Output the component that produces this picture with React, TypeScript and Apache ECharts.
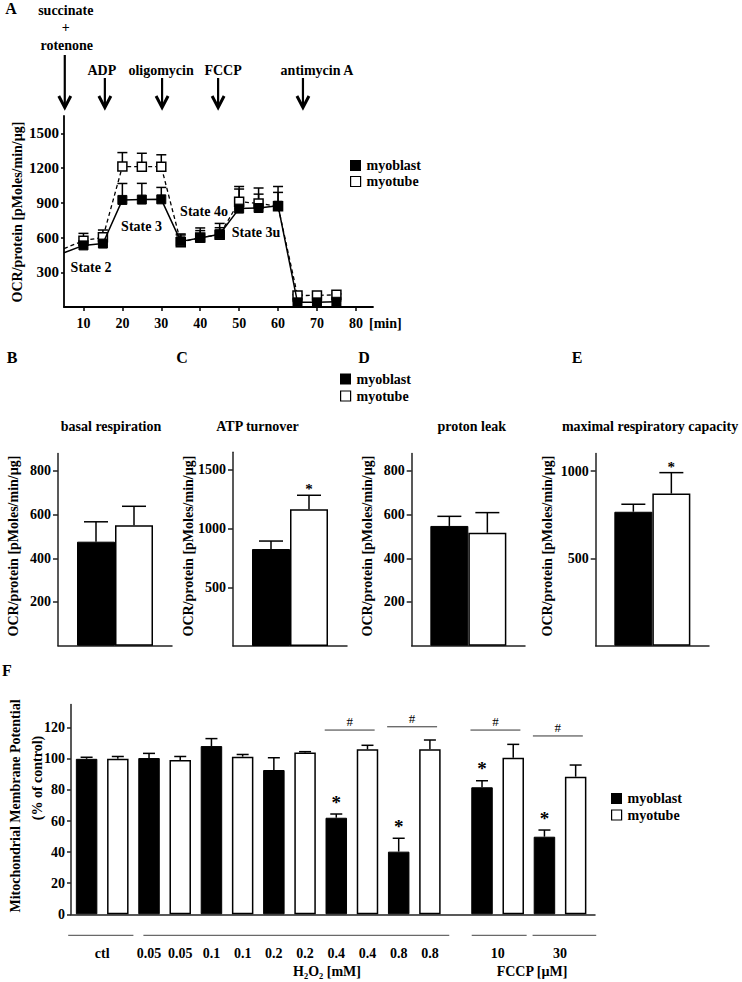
import React, { useEffect, useRef } from 'react';
import * as echarts from 'echarts';

// ---------------- DATA ----------------
// Panel A: oxygen consumption time course
const timeA = [5, 10, 15, 20, 25, 30, 35, 40, 45, 50, 55, 60, 65, 70, 75];
const myoblastA = [468, 532, 548, 925, 928, 930, 567, 597, 628, 850, 855, 875, 40, 40, 45];
const myoblastAErr = [0, 40, 45, 142, 140, 103, 55, 86, 94, 169, 120, 166, 8, 8, 8];
const myotubeA = [505, 573, 602, 1214, 1212, 1212, 559, 600, 625, 910, 895, 870, 99, 100, 105];
const myotubeAErr = [0, 63, 63, 120, 116, 103, 72, 60, 60, 131, 133, 120, 8, 8, 8];
const yTicksA = [300, 600, 900, 1200, 1500];
const xTicksA = [10, 20, 30, 40, 50, 60, 70, 80];
const injectionNames = ['succinate', 'ADP', 'oligomycin', 'FCCP', 'antimycin A'];
const injectionTimes = [5.2, 15.5, 30.2, 44.6, 66.4];
const stateLabels = ['State 2', 'State 3', 'State 4o', 'State 3u'];

// Panels B-E
const panelTitles = ['basal respiration', 'ATP turnover', 'proton leak', 'maximal respiratory capacity'];
const myoblastBE = [476, 826, 548, 767];
const myoblastBEErr = [91, 68, 44, 43];
const myotubeBE = [551, 1164, 517, 871];
const myotubeBEErr = [87, 120, 92, 120];
const myotubeBESig = [0, 1, 0, 1];
const yMaxBE = [880, 1650, 880, 1100];
const yTicksBE = [[200, 400, 600, 800], [500, 1000, 1500], [200, 400, 600, 800], [500, 1000]];

// Panel F
const fCategories = ['ctl', '0.05', '0.1', '0.2', '0.4', '0.8', '10', '30'];
const myoblastF = [100, 100.5, 108.2, 92.8, 62.1, 40.3, 81.7, 49.9];
const myoblastFErr = [1, 3, 4.8, 7.9, 2.4, 8.6, 4.2, 4.3];
const myotubeF = [100, 99.3, 101.4, 104, 106.1, 106.1, 100.7, 88.5];
const myotubeFErr = [1.5, 2.2, 1.4, 0.6, 2.6, 6, 8.6, 7.5];
const myoblastFSig = [0, 0, 0, 0, 1, 1, 1, 1];
const hashLevelF = [null, null, null, null, 118.5, 120.6, 118.5, 114.7];
const labelEachBarF = [false, true, true, true, true, true, false, false];
const yTicksF = [0, 20, 40, 60, 80, 100, 120];

// ---------------- LAYOUT ----------------
const FONT = "'Liberation Serif', 'Times New Roman', Times, serif";
const fGap = 0.67; // extra gap before FCCP group (in bar slots)
const pairX = (p: number) => 2 * p + (p >= 6 ? fGap : 0);
const fGroupSpans = [[-0.59, 1.5], [1.82, 11.62], [12.34, 14.1], [14.29, 16.33]];

const gridA = { left: 64, top: 116, width: 309, height: 191 };
const gridBE = [
  { left: 58, top: 453.4, width: 114, height: 192.3 },
  { left: 233, top: 452.3, width: 114, height: 193.7 },
  { left: 411.7, top: 453.4, width: 113.3, height: 192.3 },
  { left: 595.7, top: 453.6, width: 113.3, height: 192.1 },
];
const gridF = { left: 71, top: 704.4, width: 524, height: 209.9 };

const plain = (v: number) => String(v);
const tickFont = (size = 14) => ({ fontFamily: FONT, fontWeight: 'bold' as const, fontSize: size, color: '#000' });

function errRenderer(capHalf: number, dxUnit: number, starSize: number, starGap: number) {
  return (_params: any, api: any) => {
    const x = api.value(0), v = api.value(1), e = api.value(2);
    const side = api.value(3), star = api.value(4);
    const base = api.coord([x, v]);
    const top = api.coord([x, v + e]);
    const cx = base[0] + side * dxUnit;
    const children: any[] = [];
    if (e > 0) {
      children.push({ type: 'line', shape: { x1: cx, y1: base[1], x2: cx, y2: top[1] }, style: { stroke: '#000', lineWidth: 1.5 } });
      children.push({ type: 'line', shape: { x1: cx - capHalf, y1: top[1], x2: cx + capHalf, y2: top[1] }, style: { stroke: '#000', lineWidth: 1.5 } });
    }
    if (star) {
      children.push({
        type: 'text', x: cx, y: top[1] - starGap,
        style: { text: '*', font: `bold ${starSize}px ${FONT}`, fill: '#000', textAlign: 'center', align: 'center', textVerticalAlign: 'middle', verticalAlign: 'middle' },
      });
    }
    return { type: 'group', children };
  };
}

function T(text: string, x: number, y: number, o: any = {}) {
  const align = o.align || 'center';
  return {
    type: 'text', x, y, rotation: o.rot || 0, z: 20,
    style: {
      text, font: `${o.weight || 'bold'} ${o.size || 14}px ${FONT}`, fill: '#000',
      textAlign: align, align, textVerticalAlign: 'middle', verticalAlign: 'middle',
    },
  };
}

function legendBlock(x: number, y1: number, y2: number) {
  return [
    { type: 'rect', z: 20, shape: { x, y: y1 - 5.5, width: 11, height: 11 }, style: { fill: '#000' } },
    T('myoblast', x + 16.5, y1, { align: 'left' }),
    { type: 'rect', z: 20, shape: { x: x + 0.6, y: y2 - 5, width: 10, height: 10 }, style: { fill: '#fff', stroke: '#000', lineWidth: 1.2 } },
    T('myotube', x + 16.5, y2, { align: 'left' }),
  ];
}

function buildOption() {
  const axisLineStyle = { color: '#000', width: 1.8 };
  const xAxis: any[] = [];
  const yAxis: any[] = [];
  const grid: any[] = [];
  const series: any[] = [];

  // ---- Panel A ----
  grid.push({ ...gridA, containLabel: false, outerBoundsMode: 'none' });
  xAxis.push({
    type: 'value', gridIndex: 0, min: 5, max: 84.4,
    axisLine: { show: true, onZero: false, lineStyle: axisLineStyle },
    axisTick: { show: true, customValues: xTicksA, length: 4, lineStyle: { color: '#000', width: 1.5 } },
    axisLabel: { customValues: xTicksA, margin: 9, formatter: plain, ...tickFont(14) },
    splitLine: { show: false },
  });
  yAxis.push({
    type: 'value', gridIndex: 0, min: 0, max: 1650,
    axisLine: { show: true, onZero: false, lineStyle: axisLineStyle },
    axisTick: { show: true, customValues: yTicksA, length: 3, lineStyle: { color: '#000', width: 1.5 } },
    axisLabel: { customValues: yTicksA, margin: 5, formatter: plain, ...tickFont(15) },
    splitLine: { show: false },
  });
  const lineData = (vals: number[]) => timeA.map((t, i) => (i === 0 ? { value: [t, vals[i]], symbol: 'none' } : [t, vals[i]]));
  series.push({
    name: 'myotube', type: 'line', xAxisIndex: 0, yAxisIndex: 0, z: 3, silent: true,
    data: lineData(myotubeA), symbol: 'rect', symbolSize: 9,
    itemStyle: { color: '#fff', borderColor: '#000', borderWidth: 1.5 },
    lineStyle: { color: '#000', width: 1.3, type: [4, 3] },
  });
  series.push({
    name: 'myoblast', type: 'line', xAxisIndex: 0, yAxisIndex: 0, z: 4, silent: true,
    data: lineData(myoblastA), symbol: 'rect', symbolSize: 9,
    itemStyle: { color: '#000', borderColor: '#000', borderWidth: 1 },
    lineStyle: { color: '#000', width: 1.5 },
  });
  series.push({
    type: 'custom', xAxisIndex: 0, yAxisIndex: 0, z: 2, silent: true, clip: false,
    encode: { x: 0, y: 1 },
    data: timeA.map((t, i) => [t, myotubeA[i], myotubeAErr[i], 0, 0]),
    renderItem: errRenderer(5, 0, 14, 8),
  });
  series.push({
    type: 'custom', xAxisIndex: 0, yAxisIndex: 0, z: 2, silent: true, clip: false,
    encode: { x: 0, y: 1 },
    data: timeA.map((t, i) => [t, myoblastA[i], myoblastAErr[i], 0, 0]),
    renderItem: errRenderer(5, 0, 14, 8),
  });

  // ---- Panels B-E ----
  gridBE.forEach((g, k) => {
    const gi = k + 1;
    grid.push({ ...g, containLabel: false, outerBoundsMode: 'none' });
    xAxis.push({
      type: 'category', gridIndex: gi, data: [''],
      axisLine: { show: true, lineStyle: { color: '#222', width: 1.5 } },
      axisTick: { show: false }, axisLabel: { show: false }, splitLine: { show: false },
    });
    yAxis.push({
      type: 'value', gridIndex: gi, min: 0, max: yMaxBE[k],
      axisLine: { show: true, onZero: false, lineStyle: { color: '#222', width: 1.5 } },
      axisTick: { show: true, customValues: yTicksBE[k], length: 5, lineStyle: { color: '#222', width: 1.5 } },
      axisLabel: { customValues: yTicksBE[k], margin: 7, formatter: plain, ...tickFont(14) },
      splitLine: { show: false },
    });
    series.push({
      name: 'myoblast', type: 'bar', xAxisIndex: gi, yAxisIndex: gi, silent: true,
      data: [myoblastBE[k]], barWidth: 38, barGap: '0%',
      itemStyle: { color: '#000', borderColor: '#000', borderWidth: 1 },
    });
    series.push({
      name: 'myotube', type: 'bar', xAxisIndex: gi, yAxisIndex: gi, silent: true,
      data: [myotubeBE[k]], barWidth: 38, barGap: '0%',
      itemStyle: { color: '#fff', borderColor: '#000', borderWidth: 1.5 },
    });
    series.push({
      type: 'custom', xAxisIndex: gi, yAxisIndex: gi, z: 5, silent: true, clip: false,
      encode: { x: 0, y: 1 },
      data: [
        [0, myoblastBE[k], myoblastBEErr[k], -1, 0],
        [0, myotubeBE[k], myotubeBEErr[k], 1, myotubeBESig[k]],
      ],
      renderItem: errRenderer(12, 19, 15, 6),
    });
  });

  // ---- Panel F ----
  const fLabelPos: number[] = [];
  const fLabelText: string[] = [];
  fCategories.forEach((c, p) => {
    const bx = pairX(p);
    if (labelEachBarF[p]) { fLabelPos.push(bx, bx + 1); fLabelText.push(c, c); }
    else { fLabelPos.push(bx + 0.5); fLabelText.push(c); }
  });
  grid.push({ ...gridF, containLabel: false, outerBoundsMode: 'none' });
  xAxis.push({
    type: 'value', gridIndex: 5, min: -0.5, max: 16.29,
    axisLine: { show: true, onZero: false, lineStyle: { color: '#222', width: 1.5 } },
    axisTick: { show: false },
    axisLabel: {
      customValues: fLabelPos, margin: 32, ...tickFont(14),
      formatter: (v: number) => {
        const i = fLabelPos.findIndex((q) => Math.abs(q - v) < 1e-6);
        return i >= 0 ? fLabelText[i] : '';
      },
    },
    splitLine: { show: false },
  });
  yAxis.push({
    type: 'value', gridIndex: 5, min: 0, max: 135,
    axisLine: { show: true, onZero: false, lineStyle: { color: '#222', width: 1.5 } },
    axisTick: { show: true, customValues: yTicksF, length: 4, lineStyle: { color: '#222', width: 1.5 } },
    axisLabel: { customValues: yTicksF, margin: 6, formatter: plain, ...tickFont(14) },
    splitLine: { show: false },
  });
  series.push({
    name: 'myoblast', type: 'bar', xAxisIndex: 5, yAxisIndex: 5, silent: true,
    data: myoblastF.map((v, p) => [pairX(p), v]), barWidth: 21.5, barGap: '-100%',
    itemStyle: { color: '#000', borderColor: '#000', borderWidth: 1 },
  });
  series.push({
    name: 'myotube', type: 'bar', xAxisIndex: 5, yAxisIndex: 5, silent: true,
    data: myotubeF.map((v, p) => [pairX(p) + 1, v]), barWidth: 21.5, barGap: '-100%',
    itemStyle: { color: '#fff', borderColor: '#000', borderWidth: 1.5 },
  });
  series.push({
    type: 'custom', xAxisIndex: 5, yAxisIndex: 5, z: 5, silent: true, clip: false,
    encode: { x: 0, y: 1 },
    data: [
      ...myoblastF.map((v, p) => [pairX(p), v, myoblastFErr[p], 0, myoblastFSig[p]]),
      ...myotubeF.map((v, p) => [pairX(p) + 1, v, myotubeFErr[p], 0, 0]),
    ],
    renderItem: errRenderer(6, 0, 19, 12),
  });
  // significance brackets (#)
  series.push({
    type: 'custom', xAxisIndex: 5, yAxisIndex: 5, z: 5, silent: true, clip: false,
    encode: { x: [0, 1], y: 2 },
    data: hashLevelF
      .map((h, p) => (h == null ? null : [pairX(p) - 0.37, pairX(p) + 1.23, h]))
      .filter((r) => r !== null),
    renderItem: (_p: any, api: any) => {
      const a = api.coord([api.value(0), api.value(2)]);
      const b = api.coord([api.value(1), api.value(2)]);
      return {
        type: 'group',
        children: [
          { type: 'line', shape: { x1: a[0], y1: a[1], x2: b[0], y2: b[1] }, style: { stroke: '#333', lineWidth: 1 } },
          {
            type: 'text', x: (a[0] + b[0]) / 2, y: a[1] - 8.5,
            style: { text: '#', font: `13px ${FONT}`, fill: '#000', textAlign: 'center', align: 'center', textVerticalAlign: 'middle', verticalAlign: 'middle' },
          },
        ],
      };
    },
  });
  // group lines under the x axis
  series.push({
    type: 'custom', xAxisIndex: 5, yAxisIndex: 5, z: 5, silent: true, clip: false,
    encode: { x: [0, 1] },
    data: fGroupSpans,
    renderItem: (_p: any, api: any) => {
      const a = api.coord([api.value(0), 0]);
      const b = api.coord([api.value(1), 0]);
      return { type: 'line', shape: { x1: a[0], y1: a[1] + 21, x2: b[0], y2: b[1] + 21 }, style: { stroke: '#444', lineWidth: 1 } };
    },
  });

  return { animation: false, backgroundColor: '#fff', grid, xAxis, yAxis, series };
}

function buildGraphics(px: (t: number) => number) {
  const g: any[] = [];
  // panel letters
  g.push(T('A', 11, 8, { size: 16 }), T('B', 12, 357, { size: 16 }), T('C', 182, 357, { size: 16 }),
    T('D', 364, 357, { size: 16 }), T('E', 577, 357, { size: 16 }), T('F', 7, 670, { size: 16 }));

  // injection arrows
  const labelDx = [1, -3, -1, 5, 14];
  injectionTimes.forEach((t, i) => {
    const x = px(t);
    const top = i === 0 ? 55 : 78;
    g.push({ type: 'line', z: 20, shape: { x1: x, y1: top, x2: x, y2: 106 }, style: { stroke: '#000', lineWidth: 2.2 } });
    g.push({ type: 'polyline', z: 20, shape: { points: [[x - 6, 96], [x, 107.5], [x + 6, 96]] }, style: { stroke: '#000', lineWidth: 3, fill: null } });
    if (i === 0) {
      g.push(T(injectionNames[0], x + labelDx[0], 10), T('+', x + 1, 27), T('rotenone', x + 2, 45));
    } else {
      g.push(T(injectionNames[i], x + labelDx[i], 70));
    }
  });
  // state labels
  g.push(T(stateLabels[0], 91, 267), T(stateLabels[1], 141.5, 226), T(stateLabels[2], 204, 211.5), T(stateLabels[3], 256, 232));
  // axis names
  const ocr = 'OCR/protein [pMoles/min/µg]';
  g.push(T(ocr, 17, 212, { rot: Math.PI / 2 }));
  g.push(T('[min]', 369, 323, { align: 'left' }));
  const yNameX = [13, 188, 367, 547];
  const titleX = [111, 257.5, 471.7, 650];
  panelTitles.forEach((title, k) => {
    g.push(T(ocr, yNameX[k], 546, { rot: Math.PI / 2 }));
    g.push(T(title, titleX[k], 426));
  });
  g.push(T('Mitochondrial Membrane Potential', 15, 806, { rot: Math.PI / 2 }));
  g.push(T('(% of control)', 37.5, 778, { rot: Math.PI / 2 }));
  g.push(T('H₂O₂ [mM]', 327, 971), T('FCCP [µM]', 532, 971));
  // legends
  g.push(...legendBlock(350, 165.5, 181.5));
  g.push(...legendBlock(340, 379, 396));
  g.push(...legendBlock(611, 798.5, 815));
  return g;
}

export default function App() {
  const ref = useRef<HTMLDivElement>(null);
  useEffect(() => {
    if (!ref.current) return;
    const chart = echarts.init(ref.current, null, { renderer: 'svg' });
    chart.setOption(buildOption());
    const px = (t: number) => chart.convertToPixel({ xAxisIndex: 0 }, t) as unknown as number;
    chart.setOption({ graphic: { elements: buildGraphics(px) } });
    return () => chart.dispose();
  }, []);
  return (
    <div
      ref={ref}
      style={{ position: 'absolute', left: 0, top: 0, width: 742, height: 982, background: '#fff' }}
    />
  );
}
